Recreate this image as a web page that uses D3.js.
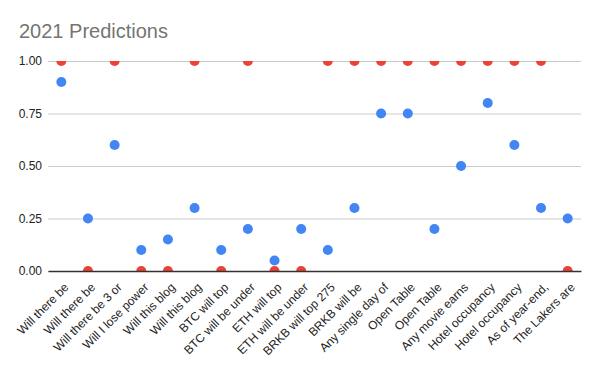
<!DOCTYPE html>
<html lang="en">
    <head>
        <meta charset="utf-8">
        <title>2021 Predictions</title>
        <script src="https://d3js.org/d3.v7.min.js"></script>
        <style>
            body { margin: 0; background: #fff; }
            text { font-family: Arial, "Liberation Sans", sans-serif; }
        </style>
    </head>
    <body>
        <script type="text/javascript">

            var questions = ["Will there be", "Will there be", "Will there be 3 or", "Will I lose power",
                "Will this blog", "Will this blog", "BTC will top", "BTC will be under", "ETH will top",
                "ETH will be under", "BRKB will top 275", "BRKB will be", "Any single day of", "Open Table",
                "Open Table", "Any movie earns", "Hotel occupancy", "Hotel occupancy", "As of year-end,",
                "The Lakers are"];
            var predicted = [0.9, 0.25, 0.6, 0.1, 0.15, 0.3, 0.1, 0.2, 0.05, 0.2,
                             0.1, 0.3, 0.75, 0.75, 0.2, 0.5, 0.8, 0.6, 0.3, 0.25];
            var outcome = [1, 0, 1, 0, 0, 1, 0, 1, 0, 0,
                           1, 1, 1, 1, 1, 1, 1, 1, 1, 0];
            var yTicks = [0, 0.25, 0.5, 0.75, 1];

            var outerWidth = 600,
                outerHeight = 371;
            var margin = { left: 48, top: 61, right: 19, bottom: 100 };
            var innerWidth = outerWidth - margin.left - margin.right;
            var innerHeight = outerHeight - margin.top - margin.bottom;

            var svg = d3.select("body")
                        .append("svg")
                        .attr("width", outerWidth)
                        .attr("height", outerHeight);

            svg.append("text")
                .attr("x", 19)
                .attr("y", 38)
                .attr("fill", "#757575")
                .style("font-size", "20px")
                .text("2021 Predictions");

            var g = svg.append("g")
                .attr("transform", `translate(${margin.left},${margin.top})`);

            var idx = questions.map((d, i) => i);

            var xScale = d3.scaleBand()
                .domain(idx)
                .range([0, innerWidth]);

            var yScale = d3.scaleLinear()
                .domain([0, 1])
                .range([innerHeight, 0]);

            // gridlines + y labels
            var yAxis = d3.axisLeft(yScale)
                .tickValues(yTicks)
                .tickFormat(d3.format(".2f"))
                .tickSize(-innerWidth)
                .tickPadding(6);

            var yg = g.append("g").call(yAxis);
            yg.select(".domain").remove();
            yg.selectAll(".tick line").attr("stroke", "#cccccc");
            yg.selectAll(".tick text")
                .attr("fill", "#222")
                .style("font-size", "12px")
                .style("font-family", "Arial, 'Liberation Sans', sans-serif");

            svg.append("clipPath")
                .attr("id", "plot-clip")
                .append("rect")
                .attr("x", 0).attr("y", 0)
                .attr("width", innerWidth)
                .attr("height", innerHeight);

            var dots = g.append("g").attr("clip-path", "url(#plot-clip)");

            dots.selectAll("circle.pred")
                .data(predicted)
                .enter()
                .append("circle")
                .attr("class", "pred")
                .attr("cx", (d, i) => xScale(i) + xScale.bandwidth() / 2)
                .attr("cy", d => yScale(d))
                .attr("r", 5)
                .attr("fill", "#4285f4");

            dots.selectAll("circle.out")
                .data(outcome)
                .enter()
                .append("circle")
                .attr("class", "out")
                .attr("cx", (d, i) => xScale(i) + xScale.bandwidth() / 2)
                .attr("cy", d => yScale(d))
                .attr("r", 5)
                .attr("fill", "#ea4335");

            // baseline + x labels
            var xAxis = d3.axisBottom(xScale)
                .tickSize(0)
                .tickFormat(i => questions[i]);

            var xg = g.append("g")
                .attr("transform", `translate(0,${innerHeight})`)
                .call(xAxis);
            xg.select(".domain").attr("stroke", "#333").attr("stroke-width", 1.5);
            xg.selectAll(".tick text")
                .attr("fill", "#222")
                .style("font-size", "12px")
                .style("font-family", "Arial, 'Liberation Sans', sans-serif")
                .attr("text-anchor", "end")
                .attr("dy", null)
                .attr("y", 0)
                .attr("transform", "translate(8,17) rotate(-45)");

        </script>
    </body>
</html>
